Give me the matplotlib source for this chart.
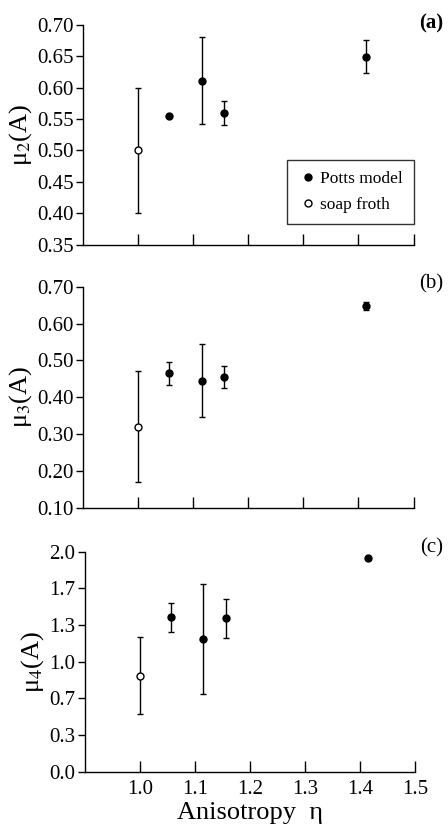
import matplotlib
matplotlib.use("Agg")
import matplotlib.pyplot as plt
from matplotlib.lines import Line2D
from matplotlib.ticker import FixedLocator, FormatStrFormatter

plt.rcParams['font.family'] = ['Liberation Serif', 'DejaVu Serif']
plt.rcParams['mathtext.fontset'] = 'stix'

# soap froth (open circle)
froth_x = [1.0]
froth_mu2 = [0.50]
froth_mu2_lo = [0.40]
froth_mu2_hi = [0.60]
froth_mu3 = [0.32]
froth_mu3_lo = [0.17]
froth_mu3_hi = [0.47]
froth_mu4 = [0.87]
froth_mu4_lo = [0.52]
froth_mu4_hi = [1.22]

# Potts model (filled circles)
potts_x = [1.056, 1.115, 1.156, 1.414]
potts_mu2 = [0.555, 0.611, 0.559, 0.649]
potts_mu2_lo = [0.553, 0.542, 0.540, 0.623]
potts_mu2_hi = [0.557, 0.681, 0.579, 0.676]
potts_mu3 = [0.465, 0.445, 0.455, 0.649]
potts_mu3_lo = [0.434, 0.345, 0.425, 0.638]
potts_mu3_hi = [0.496, 0.545, 0.486, 0.659]
potts_mu4 = [1.403, 1.209, 1.397, 1.945]
potts_mu4_lo = [1.273, 0.706, 1.218, 1.945]
potts_mu4_hi = [1.536, 1.709, 1.573, 1.945]

x_ticks = [1.0, 1.1, 1.2, 1.3, 1.4, 1.5]


def errs(y, lo, hi):
    return [[a - b for a, b in zip(y, lo)], [b - a for a, b in zip(y, hi)]]


fig = plt.figure(figsize=(4.48, 8.24), dpi=100)
boxes = [[0.186, 0.703, 0.737, 0.267],
         [0.186, 0.384, 0.737, 0.268],
         [0.190, 0.0635, 0.737, 0.267]]

panels = [
    (froth_mu2, froth_mu2_lo, froth_mu2_hi, potts_mu2, potts_mu2_lo, potts_mu2_hi,
     r'μ$_2$(A)', (0.35, 0.70), [0.35, 0.40, 0.45, 0.50, 0.55, 0.60, 0.65, 0.70], '%.2f', '(a)', 0.972),
    (froth_mu3, froth_mu3_lo, froth_mu3_hi, potts_mu3, potts_mu3_lo, potts_mu3_hi,
     r'μ$_3$(A)', (0.10, 0.70), [0.10, 0.20, 0.30, 0.40, 0.50, 0.60, 0.70], '%.2f', '(b)', 0.655),
    (froth_mu4, froth_mu4_lo, froth_mu4_hi, potts_mu4, potts_mu4_lo, potts_mu4_hi,
     r'μ$_4$(A)', (0.0, 2.0), [k / 3 for k in range(7)], '%.1f', '(c)', 0.335),
]

axes = []
for i, (fy, flo, fhi, py, plo, phi, ylab, ylim, yt, fmt, tag, ty) in enumerate(panels):
    ax = fig.add_axes(boxes[i])
    axes.append(ax)
    ax.errorbar(potts_x, py, yerr=errs(py, plo, phi), fmt='o', color='black',
                markersize=5, capsize=2.5, elinewidth=1.0, capthick=1.0)
    ax.errorbar(froth_x, fy, yerr=errs(fy, flo, fhi), fmt='o', color='black',
                mfc='white', markersize=5, capsize=2.5, elinewidth=1.0,
                capthick=1.0)
    ax.set_xlim(0.9, 1.5)
    ax.set_ylim(*ylim)
    ax.xaxis.set_major_locator(FixedLocator(x_ticks))
    ax.yaxis.set_major_locator(FixedLocator(yt))
    ax.yaxis.set_major_formatter(FormatStrFormatter(fmt))
    for s in ['top', 'right']:
        ax.spines[s].set_visible(False)
    for s in ['left', 'bottom']:
        ax.spines[s].set_linewidth(1.0)
    ax.tick_params(axis='x', direction='in', length=8, width=1.0, labelsize=15, pad=6)
    ax.tick_params(axis='y', direction='out', length=5, width=1.0, labelsize=15, pad=2)
    ax.set_ylabel(ylab, fontsize=19, labelpad=2)
    if i < 2:
        ax.tick_params(axis='x', labelbottom=False)
    fig.text(0.989, ty, tag, fontsize=15, ha='right', va='center',
             fontweight='bold' if i == 0 else 'normal')

handles = [Line2D([], [], ls='none', marker='o', color='black', markersize=5),
           Line2D([], [], ls='none', marker='o', color='black', mfc='white', markersize=5)]
leg = axes[0].legend(handles, ['Potts model', 'soap froth'],
                     loc='lower right', bbox_to_anchor=(1.0, 0.095), borderaxespad=0,
                     fontsize=12.5, frameon=True, fancybox=False, edgecolor='black',
                     handletextpad=0.1, handlelength=1.2, borderpad=0.6, labelspacing=0.6)
leg.get_frame().set_linewidth(1.0)

axes[2].set_xlabel('Anisotropy  η', fontsize=19, labelpad=2)

fig.savefig('out.png', dpi=100)
